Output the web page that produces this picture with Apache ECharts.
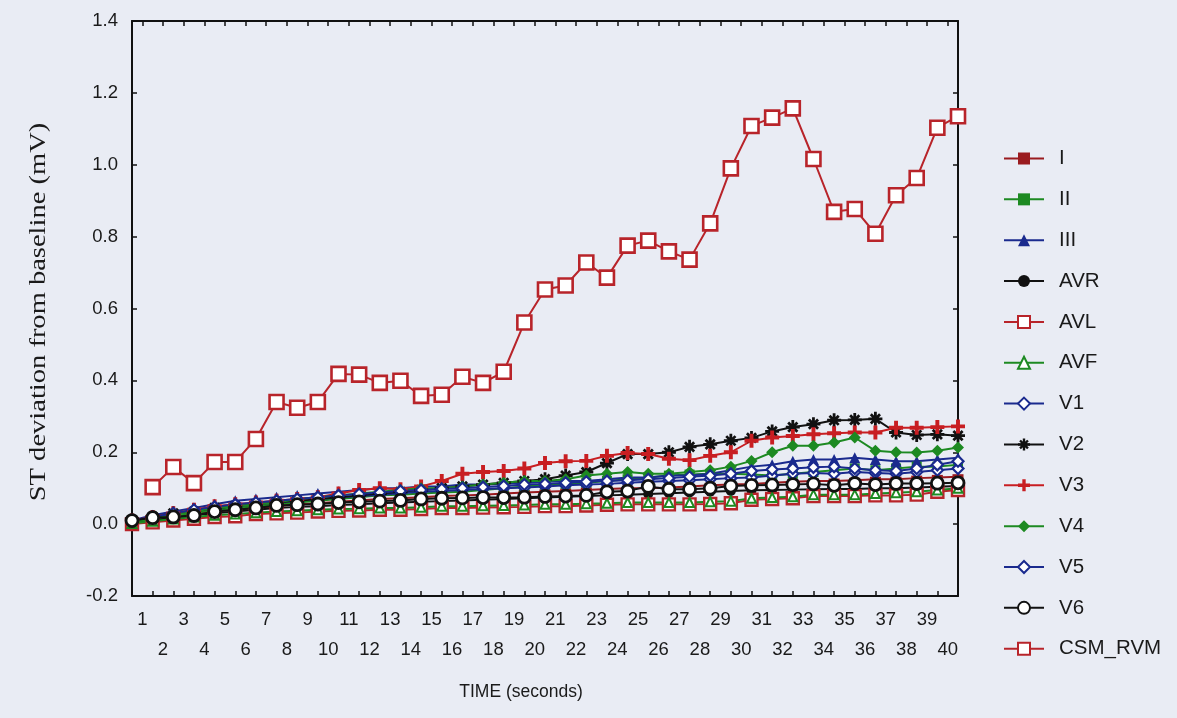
<!DOCTYPE html>
<html>
<head>
<meta charset="utf-8">
<script src="https://cdn.jsdelivr.net/npm/echarts@6/dist/echarts.min.js"></script>
<style>
  html, body { margin: 0; padding: 0; background: #e8ebf3; }
  #chart { width: 1177px; height: 718px; }
</style>
</head>
<body>
<div id="chart"></div>
<script>
// Time axis (seconds) and tick labels
const seconds = [0,1,2,3,4,5,6,7,8,9,10,11,12,13,14,15,16,17,18,19,20,21,22,23,24,25,26,27,28,29,30,31,32,33,34,35,36,37,38,39,40];
const tickLabels = ['1','2','3','4','5','6','7','8','9','10','11','12','13','14','15','16','17','18','19','20','21','22','23','24','25','26','27','28','29','30','31','32','33','34','35','36','37','38','39','40'];

// ST deviation from baseline (mV), one value per second
const leadI   = [0.005,0.012,0.020,0.028,0.035,0.040,0.045,0.050,0.055,0.058,0.062,0.066,0.070,0.072,0.075,0.078,0.080,0.082,0.085,0.088,0.090,0.092,0.095,0.098,0.100,0.100,0.102,0.105,0.108,0.110,0.112,0.115,0.118,0.120,0.120,0.122,0.125,0.125,0.128,0.130,0.132];
const leadII  = [0.005,0.012,0.020,0.030,0.040,0.045,0.050,0.055,0.060,0.065,0.070,0.075,0.080,0.082,0.085,0.088,0.090,0.095,0.100,0.105,0.110,0.112,0.115,0.120,0.125,0.130,0.135,0.138,0.140,0.140,0.138,0.135,0.140,0.145,0.150,0.155,0.150,0.155,0.160,0.160,0.165];
const leadIII = [0.010,0.025,0.035,0.045,0.055,0.065,0.070,0.075,0.080,0.085,0.090,0.095,0.100,0.100,0.105,0.105,0.110,0.110,0.112,0.115,0.118,0.120,0.120,0.125,0.130,0.130,0.135,0.135,0.140,0.150,0.160,0.165,0.175,0.180,0.180,0.185,0.180,0.175,0.175,0.180,0.185];
const leadAVR = [0.008,0.012,0.018,0.025,0.030,0.035,0.040,0.045,0.048,0.050,0.053,0.055,0.058,0.060,0.062,0.064,0.066,0.068,0.070,0.072,0.074,0.076,0.078,0.080,0.082,0.084,0.086,0.088,0.090,0.092,0.094,0.095,0.096,0.097,0.098,0.098,0.100,0.100,0.102,0.104,0.106];
const leadAVL = [0.000,0.005,0.010,0.015,0.020,0.022,0.028,0.030,0.032,0.035,0.037,0.038,0.040,0.040,0.042,0.045,0.045,0.046,0.047,0.048,0.050,0.050,0.052,0.054,0.055,0.055,0.055,0.055,0.056,0.058,0.068,0.070,0.072,0.078,0.078,0.078,0.080,0.080,0.082,0.090,0.095];
const leadAVF = [0.002,0.008,0.014,0.020,0.025,0.028,0.032,0.035,0.037,0.040,0.042,0.043,0.045,0.045,0.047,0.050,0.050,0.051,0.052,0.053,0.055,0.055,0.057,0.058,0.060,0.060,0.060,0.060,0.062,0.064,0.072,0.074,0.076,0.082,0.082,0.082,0.085,0.087,0.090,0.095,0.100];
const leadV1  = [0.010,0.018,0.028,0.036,0.045,0.050,0.056,0.060,0.065,0.070,0.074,0.078,0.082,0.086,0.090,0.092,0.095,0.098,0.100,0.102,0.105,0.108,0.110,0.112,0.115,0.118,0.120,0.122,0.125,0.128,0.130,0.135,0.140,0.142,0.140,0.145,0.142,0.140,0.145,0.150,0.155];
const leadV2  = [0.010,0.020,0.030,0.035,0.045,0.050,0.055,0.060,0.065,0.070,0.075,0.080,0.085,0.090,0.095,0.100,0.105,0.110,0.115,0.120,0.125,0.135,0.145,0.170,0.195,0.195,0.200,0.215,0.222,0.232,0.240,0.258,0.270,0.278,0.289,0.290,0.293,0.255,0.248,0.250,0.246];
const leadV3  = [0.010,0.020,0.030,0.040,0.050,0.055,0.060,0.065,0.070,0.075,0.085,0.095,0.100,0.097,0.105,0.120,0.140,0.145,0.148,0.155,0.170,0.175,0.176,0.190,0.198,0.195,0.182,0.178,0.190,0.200,0.232,0.241,0.245,0.250,0.253,0.255,0.255,0.268,0.268,0.270,0.272];
const leadV4  = [0.005,0.015,0.025,0.035,0.045,0.050,0.055,0.060,0.070,0.075,0.080,0.085,0.090,0.095,0.100,0.100,0.105,0.110,0.115,0.120,0.120,0.125,0.135,0.140,0.145,0.140,0.140,0.145,0.150,0.160,0.176,0.200,0.218,0.218,0.227,0.241,0.204,0.200,0.199,0.204,0.213];
const leadV5  = [0.010,0.020,0.030,0.040,0.048,0.055,0.060,0.065,0.070,0.075,0.080,0.084,0.088,0.092,0.095,0.098,0.100,0.103,0.106,0.110,0.112,0.115,0.118,0.120,0.122,0.125,0.128,0.132,0.135,0.140,0.148,0.152,0.155,0.158,0.160,0.155,0.150,0.148,0.155,0.165,0.175];
const leadV6  = [0.010,0.018,0.020,0.024,0.035,0.040,0.045,0.052,0.054,0.056,0.060,0.062,0.064,0.066,0.070,0.072,0.073,0.074,0.074,0.075,0.077,0.078,0.080,0.090,0.092,0.105,0.097,0.097,0.100,0.106,0.108,0.109,0.110,0.112,0.108,0.113,0.110,0.113,0.113,0.114,0.115];
const csmRvm  = [null,0.103,0.159,0.114,0.173,0.173,0.237,0.340,0.324,0.340,0.418,0.416,0.393,0.399,0.357,0.360,0.410,0.393,0.424,0.561,0.653,0.664,0.728,0.686,0.775,0.789,0.759,0.736,0.837,0.990,1.108,1.131,1.157,1.016,0.869,0.877,0.808,0.915,0.963,1.103,1.135];

const RED = '#b8242a', DARKRED = '#9a1b1f', GREEN = '#1d8a22', BLUE = '#1a2a8e', BLACK = '#111111', WHITE = '#ffffff';
const ASTERISK = 'path://M0,4L10,4L10,6L0,6Z M4,0L6,0L6,10L4,10Z M1,2.4L2.4,1L9,7.6L7.6,9Z M7.6,1L9,2.4L2.4,9L1,7.6Z';
const PLUS = 'path://M3.6,0L6.4,0L6.4,3.6L10,3.6L10,6.4L6.4,6.4L6.4,10L3.6,10L3.6,6.4L0,6.4L0,3.6L3.6,3.6Z';

function lead(name, values, color, symbol, size, fill, borderWidth) {
  return {
    name: name,
    type: 'line',
    xAxisIndex: 0,
    yAxisIndex: 0,
    data: seconds.map((s, i) => [s, values[i]]),
    symbol: symbol,
    symbolSize: size,
    showAllSymbol: true,
    lineStyle: { color: color, width: 2 },
    itemStyle: { color: fill, borderColor: color, borderWidth: borderWidth },
    emphasis: { disabled: true }
  };
}

const series = [
  lead('I', leadI, DARKRED, 'rect', [11, 5], DARKRED, 0),
  lead('II', leadII, GREEN, 'rect', 10, GREEN, 0),
  lead('III', leadIII, BLUE, 'triangle', 11, BLUE, 0),
  lead('AVR', leadAVR, BLACK, 'circle', 10, BLACK, 0),
  lead('AVL', leadAVL, RED, 'rect', 12, WHITE, 2.4),
  lead('AVF', leadAVF, GREEN, 'triangle', 9, WHITE, 2),
  lead('V1', leadV1, BLUE, 'diamond', 11, WHITE, 2.2),
  lead('V2', leadV2, BLACK, ASTERISK, 14, BLACK, 0),
  lead('V3', leadV3, '#c81e22', PLUS, 14, '#c81e22', 0),
  lead('V4', leadV4, GREEN, 'diamond', 12, GREEN, 0),
  lead('V5', leadV5, BLUE, 'diamond', 11, WHITE, 2.2),
  lead('V6', leadV6, BLACK, 'circle', 12, WHITE, 2.8),
  lead('CSM_RVM', csmRvm, RED, 'rect', 14, WHITE, 2.6)
];

const chart = echarts.init(document.getElementById('chart'), null, { renderer: 'canvas' });
const FONT = '"Liberation Sans", Arial, sans-serif';
chart.setOption({
  backgroundColor: '#e9ecf4',
  animation: false,
  grid: { left: 132, right: 219, top: 21, bottom: 122, containLabel: false },
  legend: {
    orient: 'vertical',
    left: 1003,
    top: 148,
    itemWidth: 40,
    itemHeight: 15,
    itemGap: 19.85,
    padding: 0,
    textStyle: { fontFamily: FONT, fontSize: 20.5, lineHeight: 20, color: '#1a1a1a', padding: [0, 0, 0, 10] },
    data: series.map(s => s.name)
  },
  xAxis: [
    {
      type: 'value', position: 'bottom', min: 0, max: 40, interval: 1,
      axisLine: { show: true, onZero: false, lineStyle: { color: BLACK, width: 2 } },
      axisTick: { show: true, inside: true, length: 5, lineStyle: { color: BLACK, width: 1.5 } },
      axisLabel: { show: false },
      splitLine: { show: false }
    },
    {
      type: 'category', position: 'bottom', data: tickLabels, boundaryGap: true,
      axisLine: { show: false }, axisTick: { show: false }, splitLine: { show: false },
      axisLabel: {
        interval: 0, margin: 9, fontFamily: FONT, fontSize: 18.5, lineHeight: 30, color: '#1a1a1a',
        formatter: (v, i) => (i % 2 === 0 ? v + '\n ' : ' \n' + v)
      }
    },
    {
      type: 'category', position: 'top', data: tickLabels, boundaryGap: true,
      axisLine: { show: true, onZero: false, lineStyle: { color: BLACK, width: 2 } },
      axisTick: { show: true, inside: true, alignWithLabel: true, interval: 0, length: 5, lineStyle: { color: BLACK, width: 1.5 } },
      axisLabel: { show: false }, splitLine: { show: false }
    }
  ],
  yAxis: [
    {
      type: 'value', position: 'left', min: -0.2, max: 1.4, interval: 0.2,
      axisLine: { show: true, onZero: false, lineStyle: { color: BLACK, width: 2 } },
      axisTick: { show: true, inside: true, length: 5, lineStyle: { color: BLACK, width: 1.5 } },
      axisLabel: { margin: 14, fontFamily: FONT, fontSize: 18.5, color: '#1a1a1a', formatter: v => v.toFixed(1) },
      splitLine: { show: false }
    },
    {
      type: 'value', position: 'right', min: -0.2, max: 1.4, interval: 0.2,
      axisLine: { show: true, onZero: false, lineStyle: { color: BLACK, width: 2 } },
      axisTick: { show: true, inside: true, length: 5, lineStyle: { color: BLACK, width: 1.5 } },
      axisLabel: { show: false }, splitLine: { show: false }
    }
  ],
  graphic: [
    {
      type: 'text', x: 39, y: 312, rotation: Math.PI / 2, scaleX: 1.24,
      style: { text: 'ST deviation from baseline (mV)', font: '23px "Liberation Serif", "Times New Roman", serif',
               fill: '#1a1a1a', align: 'center', verticalAlign: 'middle' }
    },
    {
      type: 'text', x: 521, y: 692,
      style: { text: 'TIME (seconds)', font: '17.5px ' + FONT, fill: '#1a1a1a', align: 'center', verticalAlign: 'middle' }
    }
  ],
  series: series
});
</script>
</body>
</html>
